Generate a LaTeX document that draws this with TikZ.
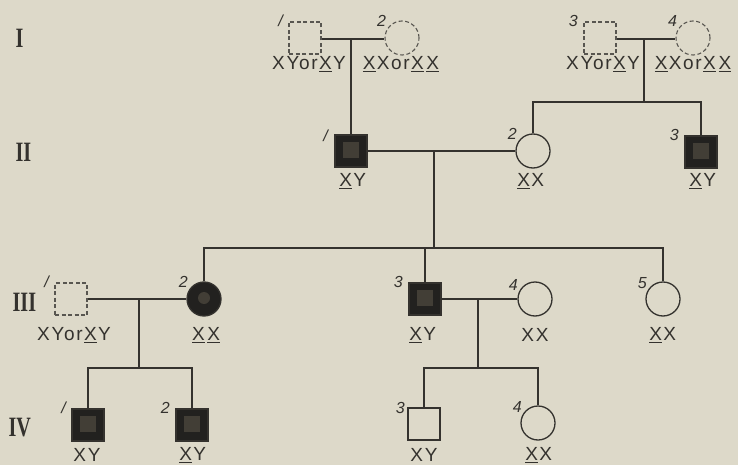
\documentclass[tikz,border=0pt]{standalone}
\usepackage{fontspec}
\setsansfont{Liberation Sans}
\newfontfamily\romfont{Liberation Serif}
\usepackage{xcolor}
\usepackage{graphicx}
\usetikzlibrary{positioning}
\definecolor{paper}{RGB}{221,217,201}
\definecolor{ink}{RGB}{52,50,46}
\definecolor{affc}{RGB}{34,33,31}
\definecolor{innerc}{RGB}{66,62,54}
\definecolor{unkc}{RGB}{88,86,80}
\newcommand{\ux}{\kern0.07em\underline{X}\kern0.07em}
\newcommand{\gt}[1]{\sffamily\addfontfeature{LetterSpace=9}#1}
\newcommand{\gnum}[1]{\scalebox{0.72}[1]{#1}}

\begin{document}
\begin{tikzpicture}[
  x=1pt, y=-1pt,
  line width=1.3pt, draw=ink,
  male/.style={draw=ink, rectangle, minimum size=32pt, inner sep=0pt},
  female/.style={draw=ink, circle, minimum size=34pt, inner sep=0pt},
  unknown/.style={draw=unkc, line width=1.1pt, dash pattern=on 4pt off 2.5pt},
  affm/.style={fill=affc, path picture={\fill[innerc] ([shift={(-8pt,-7pt)}]path picture bounding box.center) rectangle ++(16pt,16pt);}},
  afff/.style={fill=affc, path picture={\fill[innerc] ([yshift=1pt]path picture bounding box.center) circle (6pt);}},
  num/.style={font=\fontsize{16}{16}\sffamily\itshape, text=ink, inner sep=0pt, anchor=south east},
  geno/.style={font=\fontsize{19}{19}\selectfont, text=ink, inner sep=0pt, anchor=center},
  gen/.style={font=\fontsize{28}{28}\romfont\bfseries, text=ink, anchor=west, inner sep=0pt},
]
\useasboundingbox (0,0) rectangle (738,465);
\fill[paper] (0,0) rectangle (738,465);

% generation numerals
\node[gen] (gI) at (15,38) {\gnum{I}};
\node[gen] (gII) at (15,152) {\gnum{II}};
\node[gen] (gIII) at (12,302) {\gnum{III}};
\node[gen] (gIV) at (8,428) {\gnum{IV}};

% generation I
\node[male, unknown] (p1) at (305,38) {};
\node[female, unknown] (p2) at (402,38) {};
\node[male, unknown] (p3) at (600,38) {};
\node[female, unknown] (p4) at (693,38) {};

% generation II
\node[male, affm] (q1) at (351,151) {};
\node[female] (q2) at (533,151) {};
\node[male, affm] (q3) at (701,152) {};

% generation III
\node[male, unknown] (r1) at (71,299) {};
\node[female, afff] (r2) at (204,299) {};
\node[male, affm] (r3) at (425,299) {};
\node[female] (r4) at (535,299) {};
\node[female] (r5) at (663,299) {};

% generation IV
\node[male, affm] (s1) at (88,425) {};
\node[male, affm] (s2) at (192,425) {};
\node[male] (s3) at (424,424) {};
\node[female] (s4) at (538,423) {};

% marriages and descent
\coordinate (m1) at (351,39);
\coordinate (m2) at (644,39);
\coordinate (m3) at (434,151);
\coordinate (m4) at (139,299);
\coordinate (m5) at (478,299);
\draw (p1.east |- m1) -- (p2.west |- m1);
\draw (m1) -- (q1.north);
\draw (p3.east |- m2) -- (p4.west |- m2);
\draw (m2) -- ++(0,63) coordinate (c2);
\draw (q2.north) |- (c2) -| (q3.north);
\draw (q1.east) -- (q2.west);
\draw (m3) -- ++(0,97) coordinate (c3);
\draw (r2.north) |- (c3) -| (r5.north);
\draw (r3.north) -- (r3.north |- c3);
\draw (r1.east) -- (r2.west);
\draw (m4) -- ++(0,69) coordinate (c4);
\draw (s1.north) |- (c4) -| (s2.north);
\draw (r3.east) -- (r4.west);
\draw (m5) -- ++(0,69) coordinate (c5);
\draw (s3.north) |- (c5) -| (s4.north);

% individual numbers
\node[num] (n1) at ([shift={(-5pt,-6pt)}]p1.north west) {/};
\node[num] (n2) at ([shift={(-3pt,-2pt)}]p2.north west) {2};
\node[num] (n3) at ([shift={(-5pt,-6pt)}]p3.north west) {3};
\node[num] (n4) at ([shift={(-3pt,-2pt)}]p4.north west) {4};
\node[num] (n5) at ([shift={(-6pt,-8pt)}]q1.north west) {/};
\node[num] (n6) at ([shift={(-3pt,-2pt)}]q2.north west) {2};
\node[num] (n7) at ([shift={(-5pt,-6pt)}]q3.north west) {3};
\node[num] (n8) at ([shift={(-5pt,-6pt)}]r1.north west) {/};
\node[num] (n9) at ([shift={(-3pt,-2pt)}]r2.north west) {2};
\node[num] (n10) at ([shift={(-5pt,-6pt)}]r3.north west) {3};
\node[num] (n11) at ([shift={(-4pt,-5pt)}]r4.north west) {4};
\node[num] (n12) at ([shift={(-3pt,-3pt)}]r5.north west) {5};
\node[num] (n13) at ([shift={(-5pt,-6pt)}]s1.north west) {/};
\node[num] (n14) at ([shift={(-5pt,-6pt)}]s2.north west) {2};
\node[num] (n15) at ([shift={(-2pt,-7pt)}]s3.north west) {3};
\node[num] (n16) at ([shift={(-3pt,-3pt)}]s4.north west) {4};

% genotypes
\node[geno] (t1) at (309,64) {\gt{XYor\ux Y}};
\node[geno] (t2) at (401,64) {\gt{\ux Xor\ux\ux}};
\node[geno] (t3) at (603,64) {\gt{XYor\ux Y}};
\node[geno] (t4) at (693,64) {\gt{\ux Xor\ux\ux}};
\node[geno] (t5) at (352,181) {\gt{\ux Y}};
\node[geno] (t6) at (530,181) {\gt{\ux X}};
\node[geno] (t7) at (702,181) {\gt{\ux Y}};
\node[geno] (t8) at (74,335) {\gt{XYor\ux Y}};
\node[geno] (t9) at (206,335) {\gt{\ux\ux}};
\node[geno] (t10) at (422,335) {\gt{\ux Y}};
\node[geno] (t11) at (535,335) {\gt{XX}};
\node[geno] (t12) at (662,335) {\gt{\ux X}};
\node[geno] (t13) at (87,455) {\gt{XY}};
\node[geno] (t14) at (192,455) {\gt{\ux Y}};
\node[geno] (t15) at (424,455) {\gt{XY}};
\node[geno] (t16) at (538,455) {\gt{\ux X}};
\end{tikzpicture}
\end{document}
